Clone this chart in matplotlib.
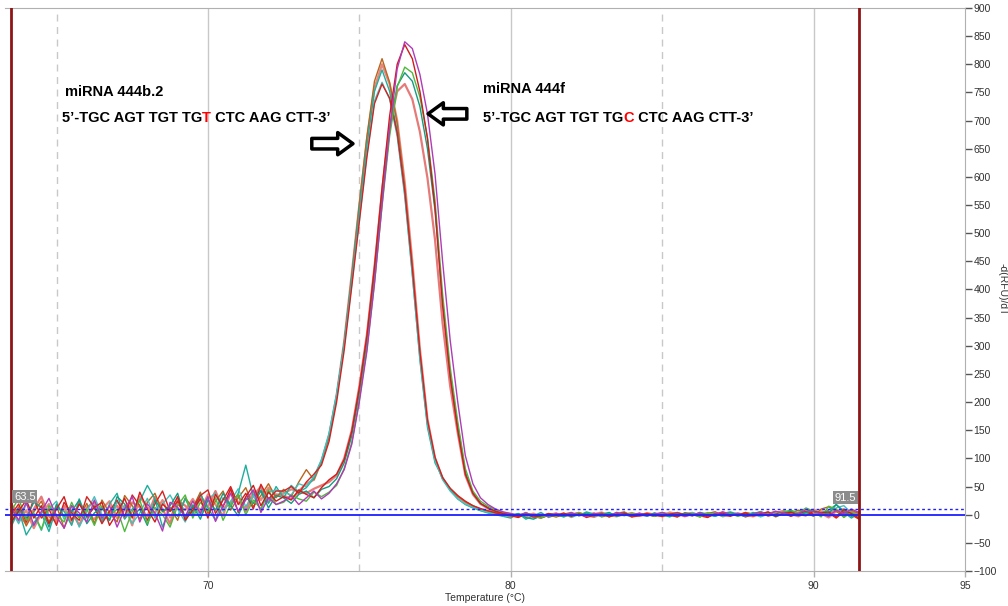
import matplotlib
matplotlib.use("Agg")
import matplotlib.pyplot as plt
import numpy as np

plt.rcParams["font.family"] = ["Liberation Sans", "DejaVu Sans"]

# melt temperatures, 0.25 C steps from 63.5 to 91.5 (113 reads)
temps = 63.5 + 0.25 * np.arange(113)

# -d(RFU)/dT, 12 values per row
# miRNA 444b.2 wells
b2_brown = [-8, 14, -20, 5, 24, -13, 16, -24, 8, -5, 20, -16,
            26, 3, -13, 34, 16, -8, 22, 38, 5, 13, -10, 30,
            12, 40, 2, 24, 42, 8, 30, 48, 14, 34, 55, 30,
            45, 32, 58, 80, 62, 95, 138, 210, 305, 425, 552, 672,
            770, 810, 768, 695, 582, 440, 285, 162, 98, 64, 46, 33,
            23, 16, 10, 6, 4, 2, 1, -2, 3, -1, -4, 2,
            -3, 1, 4, -2, 0, 3, -4, -1, 2, 5, -3, 0,
            2, -3, 4, 1, -2, 3, 0, -4, 2, 5, -1, 3,
            -2, 4, 1, -3, 2, 6, -1, 3, 8, 4, -3, 10,
            14, 6, -4, 8, 2]
b2_salmon = [16, -13, 8, -24, 3, 19, -10, 13, -16, 22, 0, -8,
             10, 24, -6, 16, -19, 32, 13, 3, 26, -5, 19, 8,
             28, 6, 36, 18, -2, 40, 22, 10, 42, 26, 48, 34,
             38, 45, 42, 55, 62, 95, 140, 212, 308, 428, 550, 665,
             758, 800, 765, 700, 590, 450, 295, 170, 100, 65, 45, 32,
             22, 14, 9, 5, 2, 0, -3, 1, -2, 2, -4, 0,
             2, -3, 0, 3, -2, 1, 4, -1, -3, 2, 0, -2,
             3, 0, -2, 4, 1, -3, 2, 0, 3, -2, 4, 1,
             -1, 3, 0, 5, -2, 2, 7, 1, -3, 4, 9, 2,
             -5, 6, 10, -2, 3]
b2_teal = [-22, 8, -36, -14, 2, -30, 13, 6, -19, 28, -6, 16,
           -13, 19, 38, -8, 10, 24, 52, 28, -22, 13, -3, 28,
           2, 36, 12, -10, 30, 14, 38, 88, 32, 44, 20, 50,
           30, 52, 40, 48, 65, 95, 142, 212, 305, 420, 540, 655,
           752, 790, 752, 680, 570, 428, 275, 155, 92, 66, 44, 28,
           18, 12, 7, 3, 0, -3, -6, 2, -8, -2, 4, -5,
           0, -4, 3, -2, 5, 1, -3, 2, -1, 4, -2, 1,
           -3, 2, 0, -4, 3, 1, -2, 4, 0, -3, 2, 5,
           1, -2, 4, 0, 3, -4, 2, 6, 0, 5, -2, 3,
           8, 18, 4, -6, 2]
b2_cyan = [8, -16, 19, 0, -28, 10, 24, -8, 16, -22, 6, 32,
           0, -10, 22, 13, -16, 3, 29, -6, 19, 35, 10, -13,
           18, -2, 28, 38, 6, 24, 46, 14, 34, 8, 40, 44,
           40, 35, 55, 50, 68, 98, 145, 215, 300, 410, 525, 640,
           735, 768, 738, 672, 565, 425, 278, 160, 96, 62, 42, 28,
           19, 13, 8, 4, 1, -2, 0, -4, 2, -6, -3, 1,
           -2, 2, -5, 0, 3, -3, 1, -2, 4, 0, -4, 2,
           1, -2, 3, 0, -4, 2, 4, -1, 0, 3, -3, 1,
           3, -1, 2, -4, 1, 4, 0, -2, 5, 3, 8, 0,
           4, 12, 16, 3, -4]
b2_red = [0, 19, -13, 29, -6, 10, -19, 22, 3, -10, 32, 13,
          -16, 6, 26, -3, 35, 16, -10, 19, 42, 6, 24, -6,
          12, 34, 44, 2, 26, 50, 18, 38, 10, 54, 28, 42,
          42, 50, 38, 58, 72, 88, 130, 200, 292, 405, 520, 635,
          730, 765, 740, 678, 575, 438, 290, 168, 102, 66, 47, 34,
          24, 16, 11, 7, 3, 0, -2, -5, 1, -3, -6, -1,
          -4, 0, -2, 2, -5, -1, 3, -3, 0, 2, -4, -2,
          0, -3, 2, -1, -4, 3, 1, -2, -5, 2, 0, -3,
          2, -4, 0, 3, -2, 1, 4, -3, 2, 6, 1, -2,
          3, -6, 5, 0, -8]

# miRNA 444f wells
f_magenta = [13, -10, 22, -19, 6, 29, -3, -24, 16, 3, -13, 26,
             -6, 16, -22, 10, 32, -13, 19, 3, -29, 22, 13, -3,
             24, 2, 32, -12, 16, 38, 6, 26, 44, 4, 30, 18,
             24, 34, 18, 30, 42, 28, 38, 55, 80, 125, 200, 290,
             410, 550, 685, 792, 840, 828, 782, 712, 605, 450, 310, 200,
             105, 55, 30, 18, 10, 5, 2, -1, 3, -2, 1, -3,
             2, -1, 3, 0, -3, 2, 1, -2, 4, 0, -1, 3,
             -2, 1, 4, -1, 2, -3, 0, 3, -2, 1, 5, 0,
             2, -2, 1, 4, 0, 6, 3, -1, 2, 9, 5, 2,
             -3, 8, 2, 10, 4]
f_red = [-13, 6, 26, -6, 16, -16, 10, 32, -10, 19, -3, 13,
         22, -19, 3, 29, -6, 40, 10, -13, 19, 6, 32, -10,
         8, 28, -6, 36, 14, 46, 4, 32, 52, 16, 40, 24,
         32, 26, 44, 36, 30, 48, 62, 72, 98, 148, 225, 318,
         440, 580, 708, 800, 835, 810, 752, 668, 545, 372, 245, 150,
         72, 38, 20, 12, 6, 2, 0, -3, 1, -4, -2, 2,
         -1, 3, -3, 1, 0, -2, 2, -4, 1, 3, -2, 0,
         2, -1, -3, 1, 3, 0, -2, 2, -4, 1, 3, -1,
         0, 3, -2, 1, 5, -3, 2, 4, 0, -2, 6, 3,
         5, -4, 9, 2, -6]
f_green = [6, 29, -10, 3, -26, 16, 0, -13, 22, -6, 10, -19,
           16, -3, 10, -30, 6, 26, -16, 13, 0, -22, 16, 35,
           -6, 22, 6, 30, -10, 18, 36, 0, 26, 10, 44, 18,
           22, 35, 28, 24, 40, 32, 40, 52, 82, 128, 205, 295,
           412, 548, 672, 760, 795, 785, 742, 670, 558, 392, 262, 165,
           82, 42, 24, 15, 9, 4, 2, -2, 4, -3, -6, 0,
           -3, 2, -1, 4, -2, 0, 3, -4, 1, -2, 2, 0,
           1, -3, 2, 0, 4, -2, 1, -4, 3, 0, -2, 2,
           -3, 1, -1, 4, 2, -2, 5, 8, 3, 12, 6, -4,
           15, 10, -5, 4, -2]
f_teal = [-16, 10, -6, 22, 13, -22, 19, -3, 6, 26, -16, 3,
          13, -10, 32, 19, -3, 10, -19, 26, 6, 16, 38, -6,
          16, -8, 26, 8, 38, 16, -2, 30, 20, 42, 12, 34,
          30, 20, 36, 42, 30, 45, 50, 64, 92, 140, 215, 305,
          425, 560, 680, 762, 785, 770, 725, 650, 540, 378, 250, 158,
          76, 38, 20, 12, 6, 3, -1, 2, -5, -8, -2, 1,
          0, -3, 2, -1, 3, -2, 0, 4, -3, 1, -1, 2,
          -2, 3, 0, -3, 1, 2, -1, 4, 0, -2, 1, 3,
          0, -3, 2, 5, 1, -1, 3, 6, -2, 4, 7, 1,
          2, 18, 6, -3, 0]
f_salmon = [19, 0, -16, 10, 32, -3, -13, 16, 6, -19, 13, 22,
            -10, 3, 16, -6, 22, 13, -3, 32, 10, -16, 26, 16,
            2, 30, 14, 42, 10, 22, 34, 6, 34, 50, 22, 36,
            34, 28, 40, 38, 46, 52, 58, 70, 100, 150, 228, 320,
            440, 575, 690, 752, 765, 738, 680, 598, 488, 340, 228, 145,
            70, 36, 19, 11, 5, 1, -2, 0, -3, 1, -4, -1,
            2, -2, 0, 3, -1, -4, 1, 2, -2, 0, 3, -1,
            -1, 2, -3, 0, 3, -1, 2, -2, 1, 4, -3, 0,
            2, 0, -3, 1, 4, -2, 2, 5, 1, 3, -1, 6,
            3, 7, -2, 5, 1]

y_ticks = list(range(-100, 901, 50))
x_ticks = [70, 80, 90, 95]
begin_temp, end_temp = 63.5, 91.5
threshold = 10

curves = [(b2_salmon, "#e8877e", 1.6), (f_salmon, "#e57a78", 1.6),
          (b2_brown, "#b8651e", 1.0), (b2_teal, "#1fae9c", 1.0),
          (b2_cyan, "#45c0bc", 1.0), (b2_red, "#d42222", 1.0),
          (f_teal, "#169a82", 1.0), (f_green, "#4fb83e", 1.0),
          (f_red, "#cf1c1c", 1.0), (f_magenta, "#b03ab8", 1.0)]

fig = plt.figure(figsize=(10.08, 6.06), dpi=100)
ax = fig.add_axes([0.005, 0.0578, 0.9523, 0.929])

# grid: solid at the labelled ticks, dashed halfway
for x in (70, 80, 90):
    ax.axvline(x, color="#c8c8c8", lw=1, zorder=0)
for x in (65, 75, 85):
    ax.axvline(x, color="#c8c8c8", lw=1, ls=(0, (5, 4)), zorder=0)

for vals, col, lw in curves:
    assert len(vals) == len(temps)
    ax.plot(temps, vals, color=col, lw=lw, zorder=2)

# baseline and threshold
ax.axhline(0, color="#1f1fff", lw=1.3, zorder=3)
ax.axhline(threshold, color="#1f1fff", lw=1.0, ls=(0, (2, 2)), zorder=3)

# begin / end markers
for x in (begin_temp, end_temp):
    ax.axvline(x, color="#8e1515", lw=2, zorder=4)
ax.text(begin_temp + 0.1, 32, "63.5", color="white", fontsize=8,
        ha="left", va="center", zorder=5,
        bbox=dict(boxstyle="square,pad=0.15", fc="#8c8c8c", ec="none"))
ax.text(end_temp - 0.1, 30, "91.5", color="white", fontsize=8,
        ha="right", va="center", zorder=5,
        bbox=dict(boxstyle="square,pad=0.15", fc="#8c8c8c", ec="none"))


def sequence(x, y, left, mid, right):
    t1 = ax.text(x, y, left, fontsize=10.5, fontweight="bold",
                 ha="left", va="center", zorder=6)
    t2 = ax.annotate(mid, xy=(1, 0), xycoords=t1, fontsize=10.5,
                     fontweight="bold", color="red", ha="left", va="bottom")
    ax.annotate(right, xy=(1, 0), xycoords=t2, fontsize=10.5,
                fontweight="bold", ha="left", va="bottom")


ax.text(65.28, 750, "miRNA 444b.2", fontsize=10.5, fontweight="bold",
        ha="left", va="center")
sequence(65.18, 705, "5’-TGC AGT TGT TG", "T", " CTC AAG CTT-3’")
ax.text(79.08, 757, "miRNA 444f", fontsize=10.5, fontweight="bold",
        ha="left", va="center")
sequence(79.08, 705, "5’-TGC AGT TGT TG", "C", " CTC AAG CTT-3’")

arrow = dict(arrowstyle="simple,head_width=0.8,head_length=0.55,tail_width=0.38",
             fc="white", ec="black", lw=2.5, mutation_scale=20,
             shrinkA=0, shrinkB=0)
ax.annotate("", xy=(74.79, 659), xytext=(73.43, 659), arrowprops=arrow)
ax.annotate("", xy=(77.27, 712), xytext=(78.55, 712), arrowprops=arrow)

ax.set_xlim(63.3, 95)
ax.set_ylim(-100, 900)
ax.set_xticks(x_ticks)
ax.set_yticks(y_ticks)
ax.yaxis.tick_right()
ax.yaxis.set_label_position("right")
ax.tick_params(axis="y", direction="out", length=5, width=1, color="#555555",
               labelsize=7.5, labelcolor="#333333", pad=1)
ax.tick_params(axis="x", direction="out", length=4, width=1, color="#b0b0b0",
               labelsize=7.5, labelcolor="#333333", pad=3)
ax.set_ylabel("-d(RFU)/dT", fontsize=7.5, rotation=270, labelpad=8, color="#333333")
ax.set_xlabel("Temperature (°C)", fontsize=7.5, labelpad=2, color="#333333")

ax.spines["left"].set_visible(False)
for side in ("top", "bottom", "right"):
    ax.spines[side].set_color("#b0b0b0")

fig.savefig("out.png", dpi=100)
